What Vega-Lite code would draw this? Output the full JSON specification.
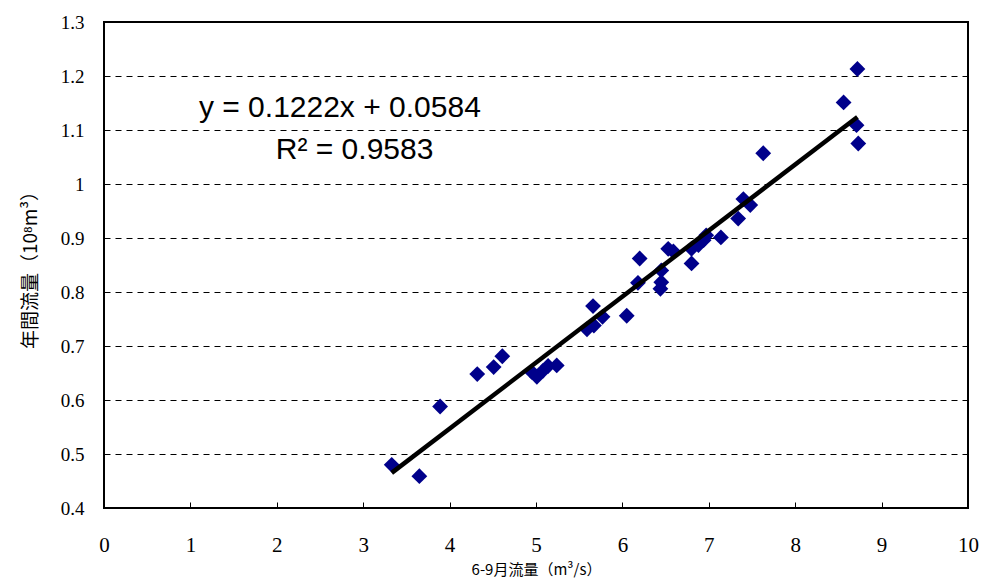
{
  "$schema": "https://vega.github.io/schema/vega-lite/v6.json",
  "width": 864,
  "height": 486,
  "autosize": {"type": "none"},
  "padding": {"left": 104, "top": 22, "right": 15, "bottom": 73},
  "background": "white",
  "config": {
    "view": {"stroke": "black", "strokeWidth": 2}
  },
  "resolve": {"axis": {"x": "independent", "y": "independent"}},
  "datasets": {
    "pts": [
      {"q69": 3.33, "annual": 0.480},
      {"q69": 3.65, "annual": 0.459},
      {"q69": 3.89, "annual": 0.588},
      {"q69": 4.32, "annual": 0.648},
      {"q69": 4.51, "annual": 0.661},
      {"q69": 4.61, "annual": 0.681},
      {"q69": 4.95, "annual": 0.652},
      {"q69": 5.01, "annual": 0.643},
      {"q69": 5.08, "annual": 0.654},
      {"q69": 5.14, "annual": 0.663},
      {"q69": 5.24, "annual": 0.664},
      {"q69": 5.59, "annual": 0.731},
      {"q69": 5.66, "annual": 0.774},
      {"q69": 5.67, "annual": 0.738},
      {"q69": 5.77, "annual": 0.754},
      {"q69": 6.05, "annual": 0.756},
      {"q69": 6.18, "annual": 0.817},
      {"q69": 6.20, "annual": 0.862},
      {"q69": 6.44, "annual": 0.806},
      {"q69": 6.45, "annual": 0.818},
      {"q69": 6.45, "annual": 0.840},
      {"q69": 6.53, "annual": 0.880},
      {"q69": 6.59, "annual": 0.875},
      {"q69": 6.80, "annual": 0.853},
      {"q69": 6.80, "annual": 0.880},
      {"q69": 6.88, "annual": 0.887},
      {"q69": 6.94, "annual": 0.896},
      {"q69": 6.97, "annual": 0.905},
      {"q69": 7.14, "annual": 0.901},
      {"q69": 7.34, "annual": 0.936},
      {"q69": 7.40, "annual": 0.972},
      {"q69": 7.48, "annual": 0.961},
      {"q69": 7.63, "annual": 1.057},
      {"q69": 8.56, "annual": 1.151},
      {"q69": 8.72, "annual": 1.213},
      {"q69": 8.71, "annual": 1.109},
      {"q69": 8.73, "annual": 1.075}
    ],
    "trend": [
      {"q69": 3.33, "annual": 0.465},
      {"q69": 8.72, "annual": 1.124}
    ],
    "labels": [
      {"q69": 2.73, "annual": 1.141, "text": "y = 0.1222x + 0.0584"},
      {"q69": 2.9, "annual": 1.063, "text": "R² = 0.9583"}
    ]
  },
  "layer": [
    {
      "data": {"name": "pts"},
      "mark": {"type": "point", "shape": "diamond", "filled": true, "color": "#00008B", "size": 250, "opacity": 1},
      "encoding": {
        "x": {
          "field": "q69", "type": "quantitative",
          "scale": {"domain": [0, 10], "nice": false, "zero": false},
          "axis": {
            "values": [0, 1, 2, 3, 4, 5, 6, 7, 8, 9, 10],
            "format": "d",
            "grid": false,
            "domain": false,
            "ticks": true,
            "tickSize": -6, "tickColor": "black", "tickWidth": 1,
            "labelPadding": 32,
            "labelColor": "black",
            "labelFont": "Liberation Serif", "labelFontSize": 21,
            "labelFlush": false,
            "title": "6-9月流量（m³/s）",
            "titleColor": "black",
            "titleFont": "Noto Sans CJK JP", "titleFontSize": 15, "titleFontWeight": "normal",
            "titlePadding": 7
          }
        },
        "y": {
          "field": "annual", "type": "quantitative",
          "scale": {"domain": [0.4, 1.3], "nice": false, "zero": false},
          "axis": {
            "values": [0.4, 0.5, 0.6, 0.7, 0.8, 0.9, 1.0, 1.1, 1.2, 1.3],
            "labelExpr": "datum.value == 1 ? '1' : format(datum.value, '.1f')",
            "domain": false,
            "ticks": false,
            "labelPadding": 20,
            "labelColor": "black",
            "labelFont": "Liberation Serif", "labelFontSize": 19,
            "labelFlush": false,
            "grid": true, "gridColor": "black", "gridDash": [6, 5], "gridWidth": 1, "gridOpacity": 1,
            "title": "年間流量（10⁸m³）",
            "titleColor": "black",
            "titleFont": "Noto Sans CJK JP", "titleFontSize": 19, "titleFontWeight": "normal",
            "titlePadding": 20
          }
        }
      }
    },
    {
      "data": {"name": "trend"},
      "mark": {"type": "line", "color": "black", "strokeWidth": 4.5},
      "encoding": {
        "x": {"field": "q69", "type": "quantitative", "axis": null},
        "y": {"field": "annual", "type": "quantitative", "axis": null}
      }
    },
    {
      "data": {"name": "labels"},
      "mark": {"type": "text", "font": "Liberation Sans", "fontSize": 30, "color": "black", "align": "center", "baseline": "middle"},
      "encoding": {
        "x": {"field": "q69", "type": "quantitative", "axis": null},
        "y": {"field": "annual", "type": "quantitative", "axis": null},
        "text": {"field": "text"}
      }
    }
  ]
}
